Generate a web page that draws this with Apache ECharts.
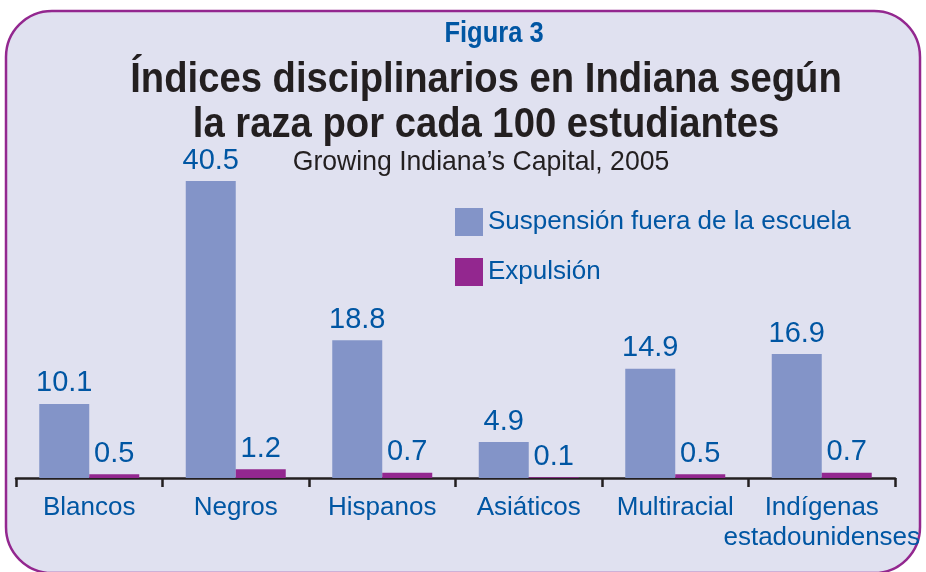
<!DOCTYPE html>
<html>
<head>
<meta charset="utf-8">
<script src="https://cdn.jsdelivr.net/npm/echarts@6/dist/echarts.min.js"></script>
<style>
  html, body { margin: 0; padding: 0; background: #fff; }
  #chart { width: 926px; height: 572px; }
</style>
</head>
<body>
<div id="chart"></div>
<script>
const categories = ['Blancos', 'Negros', 'Hispanos', 'Asiáticos', 'Multiracial', 'Indígenas\nestadounidenses'];
const suspension = [10.1, 40.5, 18.8, 4.9, 14.9, 16.9];
const expulsion = [0.5, 1.2, 0.7, 0.1, 0.5, 0.7];
const seriesNames = ['Suspensión fuera de la escuela', 'Expulsión'];

const FONT = '"Liberation Sans", Arial, sans-serif';
const BLUE_TEXT = '#0056a3';

const chart = echarts.init(document.getElementById('chart'));

const labelStyle = {
  show: true,
  position: 'top',
  distance: 6,
  color: BLUE_TEXT,
  fontFamily: FONT,
  fontSize: 29
};

// condensed look for the headings: scale normal text horizontally
function heading(text, x, y, size, weight, color, sx) {
  return {
    type: 'text',
    x: x, y: y,
    scaleX: sx,
    style: {
      text: text,
      fill: color,
      font: weight + ' ' + size + 'px ' + FONT,
      textAlign: 'center',
      textVerticalAlign: 'middle'
    }
  };
}

chart.setOption({
  backgroundColor: '#fff',
  animation: false,
  graphic: [
    {
      type: 'rect',
      z: -10,
      shape: { x: 6, y: 11, width: 914, height: 562, r: 46 },
      style: { fill: '#e0e1f0', stroke: '#93278f', lineWidth: 2.5 }
    },
    heading('Figura 3', 494, 34, 30, 'bold', '#0056a3', 0.85),
    heading('Índices disciplinarios en Indiana según', 486, 80, 42, 'bold', '#231f20', 0.91),
    heading('la raza por cada 100 estudiantes', 486, 125, 42, 'bold', '#231f20', 0.91),
    heading('Growing Indiana’s Capital, 2005', 481, 162, 28, 'normal', '#231f20', 0.95)
  ],
  legend: {
    orient: 'vertical',
    left: 450, top: 203,
    itemWidth: 28, itemHeight: 28, itemGap: 22,
    icon: 'rect',
    data: seriesNames,
    textStyle: { color: BLUE_TEXT, fontFamily: FONT, fontSize: 26 }
  },
  grid: { left: 16, right: 31, top: 148, bottom: 94, containLabel: false, outerBoundsMode: 'none' },
  xAxis: {
    type: 'category',
    data: categories,
    axisLine: { lineStyle: { color: '#231f20', width: 2.5 } },
    axisTick: { show: true, length: 9, lineStyle: { color: '#231f20', width: 2.5 } },
    axisLabel: { color: BLUE_TEXT, fontFamily: FONT, fontSize: 26, margin: 15, lineHeight: 30, interval: 0 }
  },
  yAxis: {
    type: 'value',
    min: 0, max: 45,
    show: false,
    splitLine: { show: false }
  },
  series: [
    {
      name: seriesNames[0],
      type: 'bar',
      data: suspension,
      barWidth: 50,
      barGap: '0%',
      itemStyle: { color: '#8394c8' },
      label: labelStyle
    },
    {
      name: seriesNames[1],
      type: 'bar',
      data: expulsion,
      barWidth: 50,
      itemStyle: { color: '#93278f' },
      label: labelStyle
    }
  ]
});
</script>
</body>
</html>
